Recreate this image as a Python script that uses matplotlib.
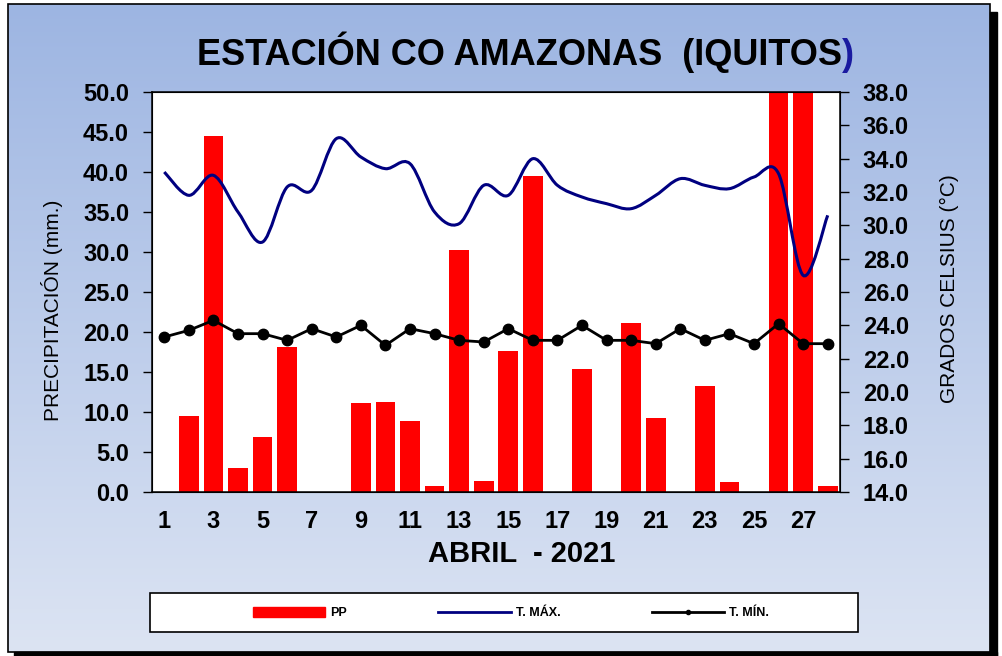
import matplotlib.pyplot as plt
import numpy as np
from matplotlib.path import Path
from matplotlib.patches import PathPatch, Rectangle
from matplotlib.lines import Line2D
from matplotlib.colors import LinearSegmentedColormap

plt.rcParams['font.family'] = ['Liberation Sans', 'DejaVu Sans']

# datos diarios - abril 2021
dias = list(range(1, 29))
pp = [0, 9.5, 44.5, 3.0, 6.9, 18.1, 0, 0, 11.1, 11.2, 8.9, 0.8, 30.2, 1.4,
      17.6, 39.5, 0, 15.4, 0, 21.1, 9.2, 0, 13.2, 1.2, 0, 60.0, 55.0, 0.8]
tmax = [33.2, 31.8, 33.0, 30.8, 29.0, 32.3, 32.1, 35.2, 34.1, 33.4, 33.7, 30.8, 30.1, 32.4,
        31.8, 34.0, 32.4, 31.7, 31.3, 31.0, 31.8, 32.8, 32.4, 32.2, 32.9, 33.1, 27.0, 30.6]
tmin = [23.3, 23.7, 24.3, 23.5, 23.5, 23.1, 23.8, 23.3, 24.0, 22.8, 23.8, 23.5, 23.1, 23.0,
        23.8, 23.1, 23.1, 24.0, 23.1, 23.1, 22.9, 23.8, 23.1, 23.5, 22.9, 24.1, 22.9, 22.9]
xticks = list(range(1, 28, 2))

W, H = 1002, 656


def fx(px):
    return px / W


def fy(py):
    return 1 - py / H


fig = plt.figure(figsize=(W / 100, H / 100), dpi=100)

# fondo degradado dentro del marco
bga = fig.add_axes([fx(8), fy(652), fx(990 - 8), (652 - 4) / H], zorder=0)
cmap = LinearSegmentedColormap.from_list('bg', ['#9DB5E2', '#DCE4F3'])
bga.imshow(np.linspace(0, 1, 256).reshape(-1, 1), aspect='auto', cmap=cmap,
           extent=[0, 1, 0, 1])
bga.axis('off')

# sombra y marco
fig.add_artist(Rectangle((fx(990), fy(656)), fx(7), (656 - 12) / H, color='black',
                         transform=fig.transFigure, zorder=0.5))
fig.add_artist(Rectangle((fx(14), fy(656)), fx(997 - 14), 4 / H, color='black',
                         transform=fig.transFigure, zorder=0.5))
fig.add_artist(Rectangle((fx(8), fy(652)), fx(990 - 8), (652 - 4) / H, fill=False,
                         edgecolor='black', lw=1.2, transform=fig.transFigure, zorder=0.6))

ax = fig.add_axes([fx(152), fy(492), fx(840 - 152), 400 / H], zorder=1)
ax.set_facecolor('white')
ax.bar(dias, pp, width=0.8, color='red', zorder=2)
ax.set_xlim(0.5, 28.5)
ax.set_ylim(0, 50)
ax.set_yticks(np.arange(0, 50.1, 5))
ax.set_yticklabels(['%.1f' % v for v in np.arange(0, 50.1, 5)])
ax.set_xticks(xticks)
ax.set_xticklabels([str(d) for d in xticks])
ax.tick_params(axis='x', length=0, pad=13, labelsize=17)
ax.tick_params(axis='y', direction='out', length=6.5, width=1, pad=10, labelsize=17)
for s in ax.spines.values():
    s.set_linewidth(1.1)

ax2 = ax.twinx()
ax2.set_ylim(14, 38)
ax2.set_yticks(np.arange(14, 38.1, 2))
ax2.set_yticklabels(['%.1f' % v for v in np.arange(14, 38.1, 2)])
ax2.tick_params(axis='y', direction='out', length=6.5, width=1, pad=10, labelsize=17)
for lbl in ax.get_xticklabels() + ax.get_yticklabels() + ax2.get_yticklabels():
    lbl.set_fontweight('bold')

# linea suavizada T. max (curva Bezier por los puntos)
pts = np.column_stack([np.array(dias, float), np.array(tmax)])
ext = np.vstack([pts[0], pts, pts[-1]])
verts = [pts[0]]
codes = [Path.MOVETO]
for i in range(len(pts) - 1):
    p0, p1, p2, p3 = ext[i], ext[i + 1], ext[i + 2], ext[i + 3]
    verts += [p1 + (p2 - p0) / 6, p2 - (p3 - p1) / 6, p2]
    codes += [Path.CURVE4] * 3
ax2.add_patch(PathPatch(Path(verts, codes), fill=False, edgecolor='#000080', lw=2.2,
                        zorder=3))
ax2.plot(dias, tmin, color='black', marker='o', ms=7.5, lw=2, zorder=4)

# titulos
t = fig.text(fx(197), fy(52), 'ESTACIÓN CO AMAZONAS  (IQUITOS', fontsize=26,
             fontweight='bold', ha='left', va='center')
ax.annotate(')', xy=(1, 0), xycoords=t, ha='left', va='bottom', fontsize=26,
            fontweight='bold', color='#1a1aa0', annotation_clip=False)

ax.set_xlabel('ABRIL  - 2021', fontsize=21, fontweight='bold', va='top')
ax.xaxis.set_label_coords((522 - 152) / 688, (492 - 540) / 400)

fig.text(fx(52), fy(310), 'PRECIPITACIÓN (mm.)', rotation=90, fontsize=15,
         ha='center', va='center')
fig.text(fx(949), fy(289), 'GRADOS CELSIUS (°C)', rotation=90, fontsize=15,
         ha='center', va='center')

# leyenda
fig.add_artist(Rectangle((fx(150), fy(632)), fx(858 - 150), 39 / H, facecolor='white',
                         edgecolor='black', lw=1.2, transform=fig.transFigure, zorder=2))
handles = [Rectangle((0, 0), 1, 1, color='red'),
           Line2D([], [], color='#000080', lw=2),
           Line2D([], [], color='black', lw=2, marker='o', ms=3)]
leg = fig.legend(handles, ['PP', 'T. MÁX.', 'T. MÍN.'], loc='center',
                 bbox_to_anchor=(fx(511), fy(613)), ncol=3, frameon=False,
                 prop={'size': 9, 'weight': 'bold'}, handlelength=5.8,
                 handleheight=0.9, columnspacing=7.3, handletextpad=0.4)
leg.set_zorder(3)

fig.savefig('out.png', dpi=100)
